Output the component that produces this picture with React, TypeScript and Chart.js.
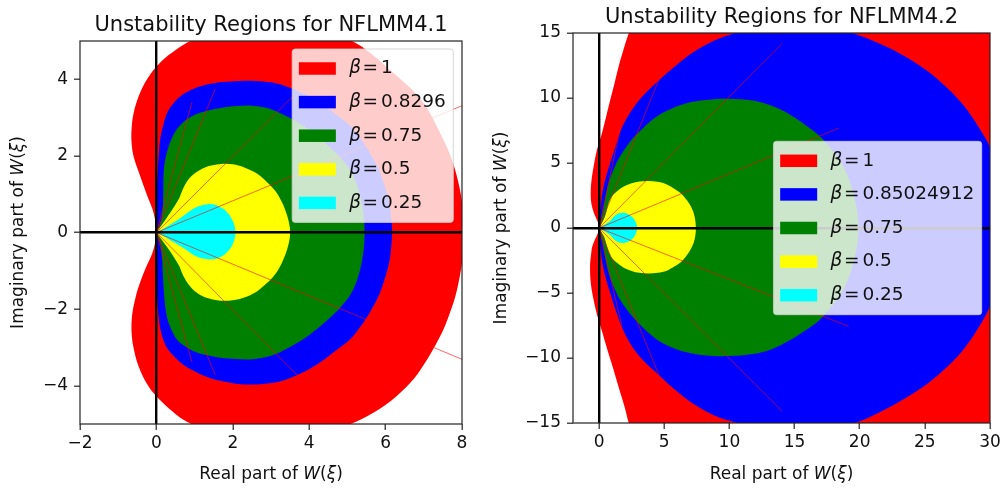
import React, { useEffect, useRef } from 'react';
import { Chart, registerables } from 'chart.js';

Chart.register(...registerables);

type Pt = [number, number];

// ---------------- data ----------------
const BETA_COLORS = ['#ff0000', '#0000ff', '#008000', '#ffff00', '#00ffff'];
const RAY_COLOR = 'rgba(255, 0, 0, 0.6)';

const LEFT_TITLE = 'Unstability Regions for NFLMM4.1';
const RIGHT_TITLE = 'Unstability Regions for NFLMM4.2';
const LEFT_BETAS = ['1', '0.8296', '0.75', '0.5', '0.25'];
const RIGHT_BETAS = ['1', '0.85024912', '0.75', '0.5', '0.25'];

const X_LABEL_PARTS: [string, boolean][] = [['Real part of ', false], ['W', true], ['(', false], ['ξ', true], [')', false]];
const Y_LABEL_PARTS: [string, boolean][] = [['Imaginary part of ', false], ['W', true], ['(', false], ['ξ', true], [')', false]];

const LEFT_X_RANGE: Pt = [-2, 8];
const LEFT_Y_RANGE: Pt = [-5, 5];
const RIGHT_X_RANGE: Pt = [-2, 30];
const RIGHT_Y_RANGE: Pt = [-15, 15];
const LEFT_X_TICKS = [-2, 0, 2, 4, 6, 8];
const LEFT_Y_TICKS = [-4, -2, 0, 2, 4];
const RIGHT_X_TICKS = [0, 5, 10, 15, 20, 25, 30];
const RIGHT_Y_TICKS = [-15, -10, -5, 0, 5, 10, 15];

// NFLMM4.1 boundaries (closed loops)
const L_BETA_1: Pt[] = [
  [0, 0], [-0.03, 0.3], [-0.1, 0.6], [-0.24, 0.96], [-0.46, 1.57], [-0.6, 2.0], [-0.65, 2.35], [-0.65, 2.7],
  [-0.6, 3.1], [-0.46, 3.57], [-0.24, 4.01], [0.1, 4.44], [0.54, 4.79], [0.89, 5.0], [1.6, 5.3], [2.5, 5.45],
  [3.4, 5.42], [4.3, 5.28], [5.12, 5.0], [5.65, 4.65], [6.13, 4.23], [6.45, 3.95], [6.74, 3.68], [7.05, 3.3],
  [7.26, 2.93], [7.5, 2.45], [7.7, 2.0], [7.83, 1.6], [7.95, 1.1], [8.03, 0.6], [8.07, 0.25], [8.08, 0],
  [8.07, -0.25], [8.03, -0.6], [7.95, -1.1], [7.83, -1.65], [7.7, -2.05], [7.52, -2.52], [7.3, -2.95],
  [7.04, -3.39], [6.74, -3.82], [6.3, -4.26], [5.69, -4.7], [4.99, -5.04], [4.3, -5.27], [3.4, -5.44],
  [2.5, -5.45], [1.6, -5.3], [0.89, -4.99], [0.54, -4.77], [0.1, -4.38], [-0.2, -4.03], [-0.46, -3.51],
  [-0.6, -3.0], [-0.65, -2.6], [-0.64, -2.2], [-0.57, -1.8], [-0.46, -1.4], [-0.29, -0.95], [-0.11, -0.55],
  [-0.03, -0.25], [0, 0],
];
const L_BETA_2: Pt[] = [
  [0, 0], [-0.02, 0.5], [0, 1.0], [0.03, 1.5], [0.06, 2.0], [0.1, 2.44], [0.18, 2.8], [0.28, 3.12], [0.45, 3.38],
  [0.63, 3.56], [0.9, 3.72], [1.15, 3.82], [1.5, 3.9], [1.94, 3.94], [2.4, 3.96], [2.8, 3.94], [3.2, 3.88],
  [3.6, 3.74], [4.0, 3.55], [4.29, 3.39], [4.7, 3.08], [5.08, 2.78], [5.35, 2.45], [5.6, 2.06], [5.82, 1.65],
  [5.98, 1.2], [6.1, 0.75], [6.15, 0.35], [6.17, 0],
  [6.15, -0.35], [6.1, -0.75], [5.98, -1.2], [5.82, -1.65], [5.6, -2.06], [5.35, -2.45], [5.08, -2.78],
  [4.7, -3.08], [4.29, -3.39], [4.0, -3.57], [3.6, -3.76], [3.2, -3.9], [2.72, -3.96], [2.2, -3.96],
  [1.8, -3.9], [1.4, -3.8], [1.0, -3.62], [0.7, -3.45], [0.45, -3.22], [0.24, -2.95], [0.1, -2.5],
  [0.04, -2.0], [0.01, -1.5], [-0.01, -1.0], [-0.02, -0.5], [0, 0],
];
const L_BETA_3: Pt[] = [
  [0, 0], [0.12, 0.3], [0.17, 0.7], [0.18, 1.1], [0.19, 1.57], [0.23, 1.9], [0.3, 2.18], [0.4, 2.45], [0.54, 2.7],
  [0.75, 2.92], [0.98, 3.06], [1.3, 3.17], [1.68, 3.25], [2.1, 3.3], [2.5, 3.31], [3.0, 3.22], [3.51, 2.98],
  [3.9, 2.75], [4.2, 2.52], [4.55, 2.22], [4.82, 1.95], [5.08, 1.62], [5.25, 1.25], [5.37, 0.8], [5.43, 0.4],
  [5.45, 0],
  [5.43, -0.4], [5.37, -0.8], [5.25, -1.25], [5.08, -1.62], [4.82, -1.95], [4.55, -2.22], [4.2, -2.52],
  [3.9, -2.75], [3.51, -2.98], [3.0, -3.22], [2.5, -3.31], [2.1, -3.3], [1.68, -3.27], [1.3, -3.2],
  [0.98, -3.1], [0.75, -2.97], [0.54, -2.8], [0.4, -2.55], [0.3, -2.3], [0.24, -2.0], [0.2, -1.6],
  [0.17, -1.1], [0.15, -0.7], [0.1, -0.3], [0, 0],
];
const L_BETA_4: Pt[] = [
  [0, 0], [0.25, 0.35], [0.45, 0.65], [0.6, 0.9], [0.68, 1.1], [0.8, 1.33], [0.95, 1.5], [1.15, 1.64],
  [1.4, 1.74], [1.7, 1.79], [2.0, 1.78], [2.3, 1.7], [2.6, 1.56], [2.85, 1.36], [3.1, 1.1], [3.28, 0.8],
  [3.42, 0.45], [3.49, 0.15], [3.5, 0],
  [3.49, -0.15], [3.42, -0.45], [3.28, -0.8], [3.1, -1.1], [2.85, -1.36], [2.6, -1.56], [2.3, -1.7],
  [2.0, -1.77], [1.7, -1.78], [1.4, -1.73], [1.15, -1.63], [0.95, -1.48], [0.8, -1.3], [0.68, -1.08],
  [0.6, -0.88], [0.45, -0.63], [0.25, -0.34], [0, 0],
];
const L_BETA_5: Pt[] = [
  [0, 0], [0.3, 0.17], [0.6, 0.36], [0.85, 0.54], [1.0, 0.64], [1.15, 0.7], [1.35, 0.74], [1.55, 0.72],
  [1.75, 0.62], [1.9, 0.47], [2.0, 0.3], [2.05, 0.15], [2.07, 0],
  [2.05, -0.15], [2.0, -0.3], [1.9, -0.46], [1.75, -0.6], [1.55, -0.69], [1.4, -0.7], [1.2, -0.68],
  [1.0, -0.6], [0.85, -0.5], [0.6, -0.34], [0.3, -0.16], [0, 0],
];
const L_RAY_ENDS: Pt[] = [
  [8.0, 3.31], [3.62, 3.6], [1.54, 3.75], [0.93, 3.4],
  [8.0, -3.31], [3.68, -3.72], [1.54, -3.72], [0.93, -3.38],
];

// NFLMM4.2 boundaries
const R_BETA_1: Pt[] = [
  [0, 0], [-0.08, 0.41], [-0.4, 1.18], [-0.58, 1.8], [-0.64, 2.5], [-0.6, 3.48], [-0.41, 4.77], [-0.15, 6.05],
  [0.23, 7.33], [0.55, 8.6], [0.87, 9.9], [1.2, 11.2], [1.51, 12.46], [1.9, 13.8], [2.28, 15.0], [3.2, 17.5],
  [8, 21], [15, 22], [24, 20.5], [31, 16], [34, 8], [35, 0],
  [34, -8], [31, -16], [24, -20.5], [15, -22], [8, -21], [3.2, -17.5], [2.28, -15.0], [2.05, -14.1],
  [1.79, -13.2], [1.4, -11.9], [1.02, -10.6], [0.62, -9.3], [0.26, -8.05], [-0.13, -6.77], [-0.43, -5.49],
  [-0.64, -4.2], [-0.69, -2.92], [-0.62, -2.1], [-0.51, -1.38], [-0.1, -0.4], [0, 0],
];
const R_BETA_2: Pt[] = [
  [0, 0], [0.05, 1.0], [0.25, 2.7], [0.55, 4.0], [0.95, 5.3], [1.3, 6.4], [1.7, 7.6], [2.4, 8.9], [3.3, 10.1],
  [4.58, 11.35], [5.9, 12.5], [7.2, 13.5], [8.8, 14.4], [10.47, 15.0], [12.5, 15.5], [14.9, 15.7], [17.3, 15.5],
  [19.4, 15.0], [21.5, 14.2], [23.5, 13.2], [25.3, 12.0], [26.8, 10.7], [28.0, 9.4], [29.1, 7.8], [30.0, 6.2],
  [30.4, 4.5], [30.65, 2.5], [30.75, 0],
  [30.65, -2.5], [30.4, -4.4], [30.0, -6.0], [29.1, -7.7], [28.0, -9.3], [26.8, -10.6], [25.3, -11.9],
  [23.5, -13.1], [21.5, -14.2], [19.9, -14.9], [17.3, -15.5], [14.9, -15.7], [12.5, -15.5], [10.45, -14.95],
  [8.8, -14.4], [7.2, -13.5], [5.9, -12.5], [4.58, -11.3], [3.3, -10.1], [2.4, -8.9], [1.72, -7.55],
  [1.3, -6.4], [0.95, -5.3], [0.55, -4.0], [0.25, -2.7], [0.05, -1.0], [0, 0],
];
const R_BETA_3: Pt[] = [
  [0, 0], [0.1, 0.5], [0.25, 1.0], [0.45, 2.2], [0.75, 3.5], [1.25, 4.8], [1.8, 5.8], [2.6, 6.9], [3.4, 7.7],
  [4.4, 8.55], [5.5, 9.15], [6.7, 9.6], [8.2, 9.85], [10.0, 9.95], [11.8, 9.8], [13.3, 9.38], [14.6, 8.75],
  [15.8, 7.95], [16.9, 7.1], [17.8, 6.1], [18.6, 5.0], [19.2, 3.7], [19.6, 2.3], [19.85, 1.0], [19.9, 0],
  [19.85, -1.0], [19.6, -2.3], [19.2, -3.7], [18.6, -5.0], [17.8, -6.1], [16.9, -7.1], [15.8, -7.9],
  [14.6, -8.65], [13.3, -9.3], [11.8, -9.7], [10.0, -9.85], [8.2, -9.8], [6.7, -9.55], [5.5, -9.15],
  [4.4, -8.55], [3.4, -7.7], [2.6, -6.85], [1.8, -5.8], [1.25, -4.8], [0.75, -3.5], [0.45, -2.2],
  [0.25, -1.0], [0.1, -0.5], [0, 0],
];
const R_BETA_4: Pt[] = [
  [0, 0], [0.25, 0.45], [0.46, 0.9], [0.6, 1.4], [0.74, 1.95], [1.0, 2.45], [1.4, 2.85], [1.9, 3.2], [2.5, 3.45],
  [3.1, 3.58], [3.79, 3.62], [4.5, 3.55], [5.2, 3.35], [5.8, 3.0], [6.35, 2.6], [6.8, 2.05], [7.15, 1.45],
  [7.35, 0.8], [7.43, 0],
  [7.35, -0.8], [7.15, -1.4], [6.8, -2.0], [6.35, -2.55], [5.8, -2.95], [5.2, -3.28], [4.5, -3.45],
  [3.79, -3.5], [3.1, -3.45], [2.5, -3.3], [1.9, -3.05], [1.4, -2.7], [1.0, -2.3], [0.74, -1.8],
  [0.55, -1.2], [0.4, -0.7], [0.2, -0.35], [0, 0],
];
const R_BETA_5: Pt[] = [
  [0, 0], [0.5, 0.3], [0.9, 0.6], [1.2, 0.95], [1.5, 1.12], [1.8, 1.17], [2.2, 1.1], [2.55, 0.85],
  [2.8, 0.5], [2.9, 0.2], [2.92, 0],
  [2.9, -0.2], [2.8, -0.5], [2.55, -0.85], [2.2, -1.08], [1.8, -1.15], [1.5, -1.1], [1.2, -0.92],
  [0.9, -0.6], [0.5, -0.3], [0, 0],
];
const R_RAY_ENDS: Pt[] = [
  [18.4, 7.69], [14.05, 14.2], [4.58, 11.4], [1.64, 7.7],
  [19.16, -7.57], [14.05, -14.1], [4.58, -11.28], [1.74, -7.5],
];

// ---------------- styling ----------------
const FONT = '"DejaVu Sans", "Liberation Sans", sans-serif';
const TEXT_COLOR = '#111111';
const AXIS_COLOR = '#222222';
const TICK_SIZE = 17;
const LABEL_SIZE = 17;
const LEGEND_SIZE = 18.5;
const TITLE_SIZE = 21;
const CURVE_TENSION = 0.35;

interface PanelSpec {
  title: string;
  betas: string[];
  curves: Pt[][];
  rays: Pt[];
  xRange: Pt;
  yRange: Pt;
  xTicks: number[];
  yTicks: number[];
  pageX: number;
  canvasW: number;
  padTop: number;
  padRight: number;
  yAxisW: number;
  xAxisH: number;
  yTitleX: number;
  legendTop: number | null;
  legendRight: number;
}

const LEFT_SPEC: PanelSpec = {
  title: LEFT_TITLE,
  betas: LEFT_BETAS,
  curves: [L_BETA_1, L_BETA_2, L_BETA_3, L_BETA_4, L_BETA_5],
  rays: L_RAY_ENDS,
  xRange: LEFT_X_RANGE,
  yRange: LEFT_Y_RANGE,
  xTicks: LEFT_X_TICKS,
  yTicks: LEFT_Y_TICKS,
  pageX: 0,
  canvasW: 485,
  padTop: 41,
  padRight: 23,
  yAxisW: 80,
  xAxisH: 64,
  yTitleX: 23,
  legendTop: 8,
  legendRight: 8.7,
};

const RIGHT_SPEC: PanelSpec = {
  title: RIGHT_TITLE,
  betas: RIGHT_BETAS,
  curves: [R_BETA_1, R_BETA_2, R_BETA_3, R_BETA_4, R_BETA_5],
  rays: R_RAY_ENDS,
  xRange: RIGHT_X_RANGE,
  yRange: RIGHT_Y_RANGE,
  xTicks: RIGHT_X_TICKS,
  yTicks: RIGHT_Y_TICKS,
  pageX: 485,
  canvasW: 521,
  padTop: 33,
  padRight: 16,
  yAxisW: 88,
  xAxisH: 65,
  yTitleX: 21,
  legendTop: null,
  legendRight: 8.3,
};

function drawRich(ctx: CanvasRenderingContext2D, parts: [string, boolean][], cx: number, baseline: number, size: number) {
  const widths = parts.map(([t, it]) => {
    ctx.font = `${it ? 'italic ' : ''}${size}px ${FONT}`;
    return ctx.measureText(t).width;
  });
  const total = widths.reduce((a, b) => a + b, 0);
  let x = cx - total / 2;
  ctx.textAlign = 'left';
  ctx.textBaseline = 'alphabetic';
  parts.forEach(([t, it], i) => {
    ctx.font = `${it ? 'italic ' : ''}${size}px ${FONT}`;
    ctx.fillText(t, x, baseline);
    x += widths[i];
  });
}

function roundRectPath(ctx: CanvasRenderingContext2D, x: number, y: number, w: number, h: number, r: number) {
  ctx.beginPath();
  ctx.moveTo(x + r, y);
  ctx.lineTo(x + w - r, y);
  ctx.arcTo(x + w, y, x + w, y + r, r);
  ctx.lineTo(x + w, y + h - r);
  ctx.arcTo(x + w, y + h, x + w - r, y + h, r);
  ctx.lineTo(x + r, y + h);
  ctx.arcTo(x, y + h, x, y + h - r, r);
  ctx.lineTo(x, y + r);
  ctx.arcTo(x, y, x + r, y, r);
  ctx.closePath();
}

function drawLegend(ctx: CanvasRenderingContext2D, chart: any, s: PanelSpec) {
  const a = chart.chartArea;
  const PAD_L = 6.7, PAD_R = 7.5, HW = 37, HH = 12.5, HGAP = 13.4, FIRST = 19.5, STEP = 33.6, GAP_L = 1.5, GAP_R = 3;
  const up = `${LEGEND_SIZE}px ${FONT}`;
  const it = `italic ${LEGEND_SIZE}px ${FONT}`;
  ctx.font = it;
  const wBeta = ctx.measureText('β').width;
  ctx.font = up;
  const wEq = ctx.measureText('=').width;
  const textW = Math.max(...s.betas.map((b) => wBeta + GAP_L + wEq + GAP_R + ctx.measureText(b).width));
  const w = PAD_L + HW + HGAP + textW + PAD_R;
  const h = FIRST * 2 + STEP * (s.betas.length - 1);
  const right = a.right - s.legendRight;
  const left = right - w;
  const top = s.legendTop === null ? (a.top + a.bottom) / 2 - h / 2 : a.top + s.legendTop;
  roundRectPath(ctx, left, top, w, h, 3);
  ctx.fillStyle = 'rgba(255,255,255,0.8)';
  ctx.fill();
  ctx.strokeStyle = 'rgba(204,204,204,0.8)';
  ctx.lineWidth = 1;
  ctx.stroke();
  s.betas.forEach((b, i) => {
    const cy = top + FIRST + STEP * i;
    ctx.fillStyle = BETA_COLORS[i];
    ctx.fillRect(left + PAD_L, cy - HH / 2, HW, HH);
    ctx.fillStyle = TEXT_COLOR;
    ctx.textAlign = 'left';
    ctx.textBaseline = 'middle';
    let x = left + PAD_L + HW + HGAP;
    ctx.font = it;
    ctx.fillText('β', x, cy);
    x += wBeta + GAP_L;
    ctx.font = up;
    ctx.fillText('=', x, cy);
    x += wEq + GAP_R;
    ctx.fillText(b, x, cy);
  });
}

function decorPlugin(s: PanelSpec) {
  return {
    id: 'decor',
    afterDraw(chart: any) {
      const ctx = chart.ctx as CanvasRenderingContext2D;
      const a = chart.chartArea;
      const cx = (a.left + a.right) / 2;
      const cy = (a.top + a.bottom) / 2;
      ctx.save();
      ctx.strokeStyle = AXIS_COLOR;
      ctx.lineWidth = 1.2;
      ctx.strokeRect(a.left, a.top, a.right - a.left, a.bottom - a.top);
      ctx.fillStyle = TEXT_COLOR;
      ctx.font = `${TITLE_SIZE}px ${FONT}`;
      ctx.textAlign = 'center';
      ctx.textBaseline = 'alphabetic';
      ctx.fillText(s.title, cx, a.top - 10);
      drawRich(ctx, X_LABEL_PARTS, cx, chart.height - 9, LABEL_SIZE);
      ctx.save();
      ctx.translate(s.yTitleX, cy);
      ctx.rotate(-Math.PI / 2);
      drawRich(ctx, Y_LABEL_PARTS, 0, 0, LABEL_SIZE);
      ctx.restore();
      drawLegend(ctx, chart, s);
      ctx.restore();
    },
  };
}

function buildConfig(s: PanelSpec): any {
  const fmt = (v: number) => (v < 0 ? '\u2212' + Math.abs(v) : String(v));
  const datasets: any[] = s.curves.map((pts, i) => ({
    label: 'β = ' + s.betas[i],
    data: pts.map(([x, y]) => ({ x, y })),
    showLine: true,
    fill: 'shape',
    tension: CURVE_TENSION,
    cubicInterpolationMode: 'default',
    capBezierPoints: false,
    backgroundColor: BETA_COLORS[i],
    borderColor: BETA_COLORS[i],
    borderWidth: 0,
    pointRadius: 0,
    pointHoverRadius: 0,
    order: 10 - i,
  }));
  s.rays.forEach(([x, y]) => {
    datasets.push({
      data: [{ x: 0, y: 0 }, { x, y }],
      showLine: true,
      fill: false,
      borderColor: RAY_COLOR,
      borderWidth: 1,
      pointRadius: 0,
      pointHoverRadius: 0,
      order: 0,
    });
  });
  const zeroColor = (c: any) => (c.tick && c.tick.value === 0 ? '#000000' : 'rgba(0,0,0,0)');
  const tickFont = { family: FONT, size: TICK_SIZE };
  const grid = {
    z: 1,
    color: zeroColor,
    lineWidth: 2.4,
    drawOnChartArea: true,
    drawTicks: true,
    tickLength: 6,
    tickWidth: 1.2,
    tickColor: AXIS_COLOR,
  };
  return {
    type: 'line',
    data: { datasets },
    options: {
      responsive: false,
      animation: false,
      events: [],
      layout: { padding: { left: 0, right: s.padRight, top: s.padTop, bottom: 0 } },
      plugins: { legend: { display: false }, tooltip: { enabled: false }, title: { display: false } },
      scales: {
        x: {
          type: 'linear',
          min: s.xRange[0],
          max: s.xRange[1],
          afterBuildTicks: (sc: any) => { sc.ticks = s.xTicks.map((v) => ({ value: v })); },
          afterFit: (sc: any) => { sc.height = s.xAxisH; },
          ticks: { font: tickFont, color: TEXT_COLOR, padding: 3, maxRotation: 0, autoSkip: false, callback: (v: any) => fmt(Number(v)) },
          grid,
          border: { display: false },
        },
        y: {
          type: 'linear',
          min: s.yRange[0],
          max: s.yRange[1],
          afterBuildTicks: (sc: any) => { sc.ticks = s.yTicks.map((v) => ({ value: v })); },
          afterFit: (sc: any) => { sc.width = s.yAxisW; },
          ticks: { font: tickFont, color: TEXT_COLOR, padding: 6, autoSkip: false, callback: (v: any) => fmt(Number(v)) },
          grid,
          border: { display: false },
        },
      },
    },
    plugins: [decorPlugin(s)],
  };
}

function PanelChart({ spec }: { spec: PanelSpec }) {
  const ref = useRef<HTMLCanvasElement>(null);
  useEffect(() => {
    if (!ref.current) return;
    const chart = new Chart(ref.current, buildConfig(spec));
    return () => chart.destroy();
  }, [spec]);
  return (
    <canvas
      ref={ref}
      width={spec.canvasW}
      height={488}
      style={{ position: 'absolute', left: spec.pageX, top: 0, width: spec.canvasW, height: 488 }}
    />
  );
}

export default function App() {
  return (
    <div style={{ position: 'absolute', left: 0, top: 0, width: 1006, height: 488, background: '#ffffff', overflow: 'hidden' }}>
      <PanelChart spec={LEFT_SPEC} />
      <PanelChart spec={RIGHT_SPEC} />
    </div>
  );
}
